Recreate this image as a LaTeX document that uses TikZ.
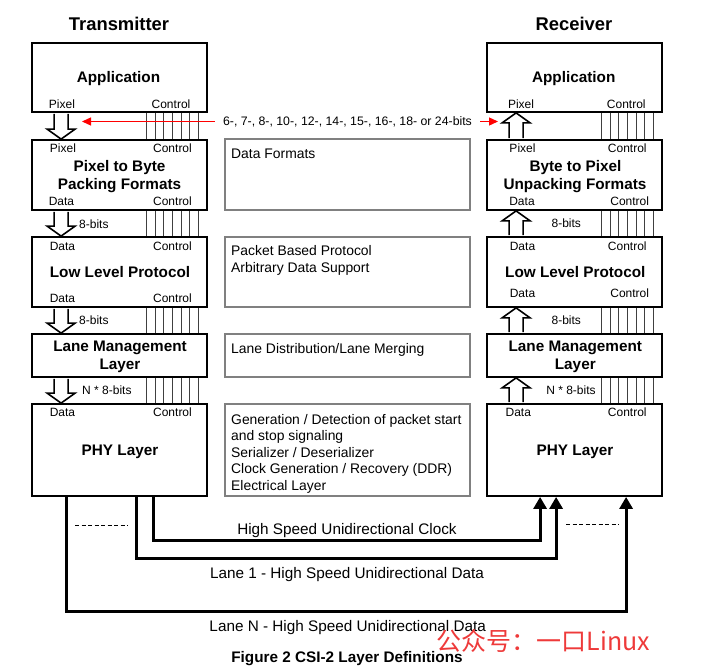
\documentclass[tikz,border=0pt]{standalone}
\usepackage{fontspec}
\setmainfont{Liberation Sans}
\newfontfamily\cjkfont{Noto Sans CJK SC}
\usetikzlibrary{arrows.meta,calc}
\definecolor{wmred}{RGB}{238,58,58}
\newcommand\harrdown[2]{\draw[harrow] let \p1=([xshift=30pt]#1.south west), \p2=([xshift=30pt]#2.north west) in (\x1-7pt,\y1-0.9pt) -- (\x1-7pt,\y2+10pt) -- (\x1-14pt,\y2+10pt) -- (\x1,\y2) -- (\x1+14pt,\y2+10pt) -- (\x1+7pt,\y2+10pt) -- (\x1+7pt,\y1-0.9pt);}
\newcommand\harrup[2]{\draw[harrow] let \p1=([xshift=30pt]#1.north west), \p2=([xshift=30pt]#2.south west) in (\x1-7pt,\y1+0.9pt) -- (\x1-7pt,\y2-10pt) -- (\x1-14pt,\y2-10pt) -- (\x1,\y2) -- (\x1+14pt,\y2-10pt) -- (\x1+7pt,\y2-10pt) -- (\x1+7pt,\y1+0.9pt);}
\begin{document}
\begin{tikzpicture}[x=1pt,y=-1pt,
 blkbox/.style={draw,line width=1.8pt,minimum width=175pt,inner sep=0pt},
 midbox/.style={draw=black!50,line width=1.3pt,minimum width=245pt,inner sep=0pt},
 ttl/.style={font=\fontsize{18.4}{20}\selectfont\bfseries,inner sep=0pt,text height=13.2pt,text depth=0pt},
 bname/.style={font=\fontsize{15.3}{17}\selectfont\bfseries,inner sep=0pt,text height=11pt,text depth=0pt},
 lab/.style={font=\fontsize{12}{14}\selectfont,inner sep=0pt,text height=8.6pt,text depth=0pt},
 mtxt/.style={font=\fontsize{13.9}{16}\selectfont,inner sep=0pt,anchor=west,text height=10pt,text depth=0pt},
 wlab/.style={font=\fontsize{15.3}{17}\selectfont,inner sep=0pt,text height=11pt,text depth=0pt},
 ctl/.style={line width=1.1pt,black!75},
 harrow/.style={draw,fill=white,line width=1.6pt,line join=miter},
 wire/.style={line width=3pt,-{Triangle[length=12pt,width=13pt]}},
 redarr/.style={red,line width=1.3pt,-{Triangle[length=9pt,width=8pt]}},
 dotline/.style={line width=1pt,dash pattern=on 4pt off 2.5pt},
]
\useasboundingbox (0,0) rectangle (710,667);

% titles
\node[ttl] (ttitle) at (119,24) {Transmitter};
\node[ttl] (rtitle) at (574,24) {Receiver};

% transmitter boxes
\node[blkbox,minimum height=69pt] (tapp) at (119.5,77.5) {};
\node[blkbox,minimum height=70pt] (tpb) at (119.5,175) {};
\node[blkbox,minimum height=70pt] (tllp) at (119.5,272) {};
\node[blkbox,minimum height=43pt] (tlm) at (119.5,355.5) {};
\node[blkbox,minimum height=92pt] (tphy) at (119.5,450) {};

% receiver boxes
\node[blkbox,minimum height=69pt] (rapp) at (574.5,77.5) {};
\node[blkbox,minimum height=70pt] (rpb) at (574.5,175) {};
\node[blkbox,minimum height=70pt] (rllp) at (574.5,272) {};
\node[blkbox,minimum height=43pt] (rlm) at (574.5,355.5) {};
\node[blkbox,minimum height=92pt] (rphy) at (574.5,450) {};

% middle boxes
\node[midbox,minimum height=71pt] (mdf) at (347.5,174.5) {};
\node[midbox,minimum height=70pt] (mpb) at (347.5,272) {};
\node[midbox,minimum height=43pt] (mlm) at (347.5,355.5) {};
\node[midbox,minimum height=92pt] (mphy) at (347.5,450) {};

% control lines
\foreach \a/\b in {tapp/tpb, tpb/tllp, tllp/tlm, tlm/tphy, rapp/rpb, rpb/rllp, rllp/rlm, rlm/rphy}
  \foreach \d in {61.5,52.8,44.1,35.4,26.7,18,9.3}
    \draw[ctl] ([xshift=-\d pt]\a.south east) -- ([xshift=-\d pt]\b.north east);

% hollow arrows
\harrdown{tapp}{tpb}
\harrdown{tpb}{tllp}
\harrdown{tllp}{tlm}
\harrdown{tlm}{tphy}
\harrup{rpb}{rapp}
\harrup{rllp}{rpb}
\harrup{rlm}{rllp}
\harrup{rphy}{rlm}

% transmitter texts
\node[bname] (tappn) at (118.5,77) {Application};
\node[lab] (tappp) at (62,104) {Pixel};
\node[lab] (tappc) at (171,104) {Control};
\node[lab] (tpbp) at (63,148) {Pixel};
\node[lab] (tpbc) at (172.5,148) {Control};
\node[bname] (tpbn1) at (119.5,166) {Pixel to Byte};
\node[bname] (tpbn2) at (119.5,184) {Packing Formats};
\node[lab] (tpbd) at (61.5,201) {Data};
\node[lab] (tpbc2) at (172.5,201) {Control};
\node[lab,anchor=west] (tb1) at (79,224) {8-bits};
\node[lab] (tllpd) at (62.5,246) {Data};
\node[lab] (tllpc) at (172.5,246) {Control};
\node[bname] (tllpn) at (120,272) {Low Level Protocol};
\node[lab] (tllpd2) at (62.5,298.5) {Data};
\node[lab] (tllpc2) at (172.5,298.5) {Control};
\node[lab,anchor=west] (tb2) at (79,320) {8-bits};
\node[bname] (tlmn1) at (120,346) {Lane Management};
\node[bname] (tlmn2) at (120,364) {Layer};
\node[lab,anchor=west] (tb3) at (82,390) {N * 8-bits};
\node[lab] (tphyd) at (62.5,412.5) {Data};
\node[lab] (tphyc) at (172.5,412.5) {Control};
\node[bname] (tphyn) at (120,450) {PHY Layer};

% receiver texts
\node[bname] (rappn) at (573.7,77) {Application};
\node[lab] (rappp) at (521,104) {Pixel};
\node[lab] (rappc) at (626.3,104) {Control};
\node[lab] (rpbp) at (522.5,148) {Pixel};
\node[lab] (rpbc) at (627.3,148) {Control};
\node[bname] (rpbn1) at (575.5,166) {Byte to Pixel};
\node[bname] (rpbn2) at (575,184) {Unpacking Formats};
\node[lab] (rpbd) at (522,201) {Data};
\node[lab] (rpbc2) at (629.7,201) {Control};
\node[lab] (rb1) at (566.3,223) {8-bits};
\node[lab] (rllpd) at (522.5,246) {Data};
\node[lab] (rllpc) at (627.3,246) {Control};
\node[bname] (rllpn) at (575.3,272) {Low Level Protocol};
\node[lab] (rllpd2) at (522.5,293) {Data};
\node[lab] (rllpc2) at (629.7,293) {Control};
\node[lab] (rb2) at (566.3,320) {8-bits};
\node[bname] (rlmn1) at (575.3,346) {Lane Management};
\node[bname] (rlmn2) at (575.3,364) {Layer};
\node[lab] (rb3) at (571,390) {N * 8-bits};
\node[lab] (rphyd) at (518.3,412.5) {Data};
\node[lab] (rphyc) at (627.3,412.5) {Control};
\node[bname] (rphyn) at (575,450) {PHY Layer};

% middle texts
\node[mtxt] (m1) at (231,153) {Data Formats};
\node[mtxt] (m2a) at (231,250) {Packet Based Protocol};
\node[mtxt] (m2b) at (231,267) {Arbitrary Data Support};
\node[mtxt] (m3) at (231,348) {Lane Distribution/Lane Merging};
\node[mtxt] (m4a) at (231,419) {Generation / Detection of packet start};
\node[mtxt] (m4b) at (231,435.5) {and stop signaling};
\node[mtxt] (m4c) at (231,452) {Serializer / Deserializer};
\node[mtxt] (m4d) at (231,468.5) {Clock Generation / Recovery (DDR)};
\node[mtxt] (m4e) at (231,485) {Electrical Layer};

% red bit-width arrows
\node[lab,font=\fontsize{12.3}{14}\selectfont] (bits) at (347.5,121.5) {6-, 7-, 8-, 10-, 12-, 14-, 15-, 16-, 18- or 24-bits};
\coordinate (lt) at (82,121.5);
\coordinate (rt) at (498,121.5);
\draw[redarr] ([xshift=-8pt]bits.west) -- (lt);
\draw[redarr] ([xshift=8pt]bits.east) -- (rt);

% high speed wires
\draw[wire] ([xshift=122pt]tphy.south west) -- ++(0,44) -| ([xshift=54pt]rphy.south west);
\draw[wire] ([xshift=105pt]tphy.south west) -- ++(0,62) -| ([xshift=70pt]rphy.south west);
\draw[wire] ([xshift=35pt]tphy.south west) -- ++(0,115) -| ([xshift=140pt]rphy.south west);

\coordinate (dl1) at (75,525);
\coordinate (dl2) at (128,525);
\coordinate (dr1) at (566,524);
\coordinate (dr2) at (619,524);
\draw[dotline] (dl1) -- (dl2);
\draw[dotline] (dr1) -- (dr2);

\node[wlab] (wclk) at (347,529) {High Speed Unidirectional Clock};
\node[wlab] (wl1) at (347,573) {Lane 1 - High Speed Unidirectional Data};
\node[wlab] (wln) at (347.7,626) {Lane N - High Speed Unidirectional Data};

\node[bname] (cap) at (347,657) {Figure 2 CSI-2 Layer Definitions};

\node[inner sep=0pt,text=wmred,font=\cjkfont\fontsize{25}{28}\selectfont] (wm) at (543.5,641) {公众号：一口Linux};
\end{tikzpicture}
\end{document}
